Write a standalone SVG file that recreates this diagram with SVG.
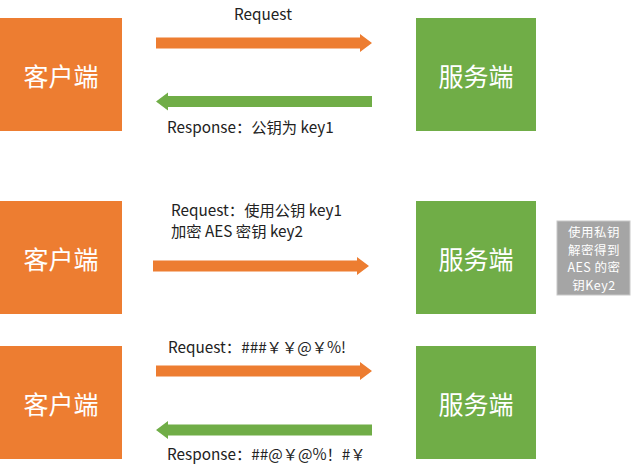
<svg xmlns="http://www.w3.org/2000/svg" width="640" height="474" viewBox="0 0 640 474">
<style>
.c{fill:#ED7D31}
.s{fill:#70AD47}
.bt{font-family:"Noto Sans CJK SC","Liberation Sans",sans-serif;font-size:25px;fill:#fff;text-anchor:middle;dominant-baseline:central}
.lb{font-family:"Noto Sans CJK SC","Liberation Sans",sans-serif;font-size:15.3px;fill:#222}
.gt{font-family:"Noto Sans CJK SC","Liberation Sans",sans-serif;font-size:12.5px;fill:#fff;text-anchor:middle;letter-spacing:0.5px}
.oa{fill:#ED7D31}
.ga{fill:#70AD47}
</style>
<rect width="640" height="474" fill="#fff"/>
<g id="client1"><rect class="c" x="0" y="18" width="122" height="113"/><text class="bt" x="61" y="75">客户端</text></g>
<g id="server1"><rect class="s" x="416" y="18" width="120" height="113"/><text class="bt" x="476" y="75">服务端</text></g>
<g id="client2"><rect class="c" x="0" y="201" width="122" height="113"/><text class="bt" x="61" y="258">客户端</text></g>
<g id="server2"><rect class="s" x="416" y="201" width="120" height="113"/><text class="bt" x="476" y="258">服务端</text></g>
<g id="client3"><rect class="c" x="0" y="346" width="122" height="113"/><text class="bt" x="61" y="403">客户端</text></g>
<g id="server3"><rect class="s" x="416" y="346" width="120" height="113"/><text class="bt" x="476" y="403">服务端</text></g>
<g id="note"><rect x="557" y="221" width="73" height="74" fill="#A5A5A5" stroke="#c8c8c8" stroke-width="1"/>
<text class="gt" x="594" y="237">使用私钥</text>
<text class="gt" x="594" y="254.5">解密得到</text>
<text class="gt" x="594" y="272">AES 的密</text>
<text class="gt" x="594" y="289.5">钥Key2</text></g>
<g id="connectors">
<polygon class="oa" points="156,37.5 360,37.5 360,34 372,43 360,52 360,48.5 156,48.5"/>
<polygon class="ga" points="372,96 168,96 168,92.5 156,101.5 168,110.5 168,107 372,107"/>
<polygon class="oa" points="153,260.5 357,260.5 357,257 369,266 357,275 357,271.5 153,271.5"/>
<polygon class="oa" points="156,365.5 360,365.5 360,362 372,371 360,380 360,376.5 156,376.5"/>
<polygon class="ga" points="372,424.5 168,424.5 168,421 156,430 168,439 168,435.5 372,435.5"/>
</g>
<g id="labels">
<text class="lb" x="263" y="20" text-anchor="middle">Request</text>
<text class="lb" x="167" y="133">Response：公钥为 key1</text>
<text class="lb" x="171" y="216">Request：使用公钥 key1</text>
<text class="lb" x="171" y="237">加密 AES 密钥 key2</text>
<text class="lb" x="168" y="353">Request：###￥￥@￥%!</text>
<text class="lb" x="167" y="460">Response：##@￥@%！#￥</text>
</g>
</svg>
